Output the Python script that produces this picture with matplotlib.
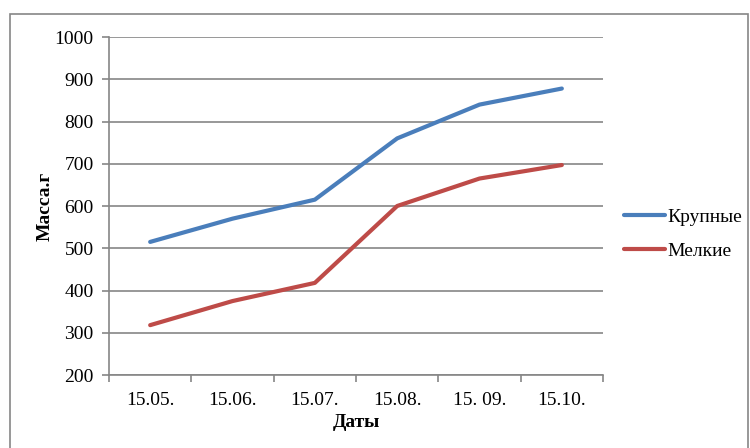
"""Line chart: mass of large vs small over dates."""
import matplotlib

matplotlib.use("Agg")
import matplotlib.pyplot as plt  # noqa: E402
from matplotlib.patches import Rectangle  # noqa: E402

dates = ["15.05.", "15.06.", "15.07.", "15.08.", "15. 09.", "15.10."]
large = [515, 570, 615, 760, 840, 878]
small = [318, 375, 418, 600, 665, 697]

plt.rcParams["font.family"] = ["Liberation Serif", "DejaVu Serif"]

GRID = "#868686"

fig = plt.figure(figsize=(7.5, 4.48), dpi=100, facecolor="white")
fig.patches.append(Rectangle((9.5 / 750, -0.05), 738 / 750, 1 - 14 / 448 + 0.05,
                             transform=fig.transFigure, fill=False,
                             edgecolor=GRID, linewidth=1.2))

ax = fig.add_axes([109 / 750, 1 - 375 / 448, 494 / 750, 338 / 448])
x = list(range(len(dates)))
ax.plot(x, large, color="#4A7EBB", linewidth=3, solid_capstyle="round", label="Крупные")
ax.plot(x, small, color="#BE4B48", linewidth=3, solid_capstyle="round", label="Мелкие")

ax.set_xlim(-0.5, len(dates) - 0.5)
ax.set_ylim(200, 1000)
ax.set_yticks(range(200, 1001, 100))
ax.set_xticks(x)
ax.set_xticklabels(dates)
ax.set_xticks([i - 0.5 for i in range(len(dates) + 1)], minor=True)
ax.tick_params(axis="x", which="major", length=0, pad=12, labelsize=14)
ax.tick_params(axis="x", which="minor", length=5, width=1.2, color=GRID)
ax.tick_params(axis="y", length=5, width=1.2, color=GRID, labelsize=14, pad=6)

ax.yaxis.grid(True, color=GRID, linewidth=1.2)
ax.set_axisbelow(True)
for side in ("top", "right"):
    ax.spines[side].set_visible(False)
for side in ("left", "bottom"):
    ax.spines[side].set_color(GRID)
    ax.spines[side].set_linewidth(1.2)

ax.set_xlabel("Даты", fontsize=14, fontweight="bold", labelpad=4)
ax.set_ylabel("Масса.г", fontsize=14, fontweight="bold", labelpad=1)

ax.legend(loc="center left", bbox_to_anchor=(616 / 750, 1 - 234 / 448),
          bbox_transform=fig.transFigure, frameon=False, fontsize=14,
          handlelength=2.1, handletextpad=0.15, labelspacing=0.85,
          borderaxespad=0)

fig.savefig("out.png", dpi=100, facecolor="white")
